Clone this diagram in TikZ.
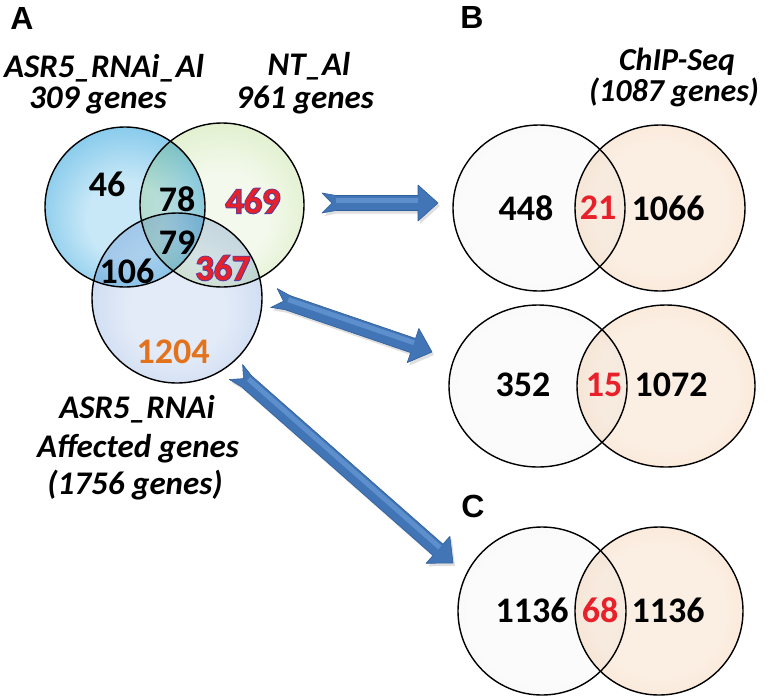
\documentclass[tikz,border=0pt]{standalone}
\usepackage{fontspec}
\setmainfont{Carlito}
\newfontfamily\letterfont{Liberation Sans}
\newfontfamily\numout{Carlito Bold}[FakeBold=5]
\usetikzlibrary{calc,shapes.geometric,shadows}

\definecolor{blueC}{HTML}{C8E8F7}
\definecolor{blueM}{HTML}{7EC6EA}
\definecolor{blueE}{HTML}{228ACB}
\definecolor{greenC}{HTML}{F3F9EC}
\definecolor{greenM}{HTML}{DCEDC6}
\definecolor{greenE}{HTML}{94C45E}
\definecolor{lowC}{HTML}{E3EBF8}
\definecolor{lowM}{HTML}{C6D6EF}
\definecolor{lowE}{HTML}{7399CE}
\definecolor{greyC}{HTML}{FBFBFB}
\definecolor{greyM}{HTML}{F0F0F0}
\definecolor{greyE}{HTML}{D0D0D0}
\definecolor{peachC}{HTML}{FBEEE2}
\definecolor{peachM}{HTML}{F7E0CA}
\definecolor{peachE}{HTML}{E2B990}
\definecolor{numred}{HTML}{E8202A}
\definecolor{numpurple}{HTML}{5A3E9A}
\definecolor{numorange}{HTML}{E2731C}
\definecolor{arrowblue}{HTML}{4275B6}
\definecolor{arrowlight}{HTML}{5F92CF}
\definecolor{arrowdark}{HTML}{2F5E9C}

\pgfdeclareradialshading{shblue}{\pgfpoint{0bp}{-5bp}}{color(0bp)=(blueC); color(12bp)=(blueC); color(30bp)=(blueM); color(50bp)=(blueE)}
\pgfdeclareradialshading{shgreen}{\pgfpoint{0bp}{-5bp}}{color(0bp)=(greenC); color(14bp)=(greenC); color(32bp)=(greenM); color(50bp)=(greenE)}
\pgfdeclareradialshading{shlow}{\pgfpoint{0bp}{-5bp}}{color(0bp)=(lowC); color(14bp)=(lowC); color(32bp)=(lowM); color(50bp)=(lowE)}
\pgfdeclareradialshading{shgrey}{\pgfpoint{0bp}{0bp}}{color(0bp)=(greyC); color(22bp)=(greyC); color(40bp)=(greyM); color(50bp)=(greyE)}
\pgfdeclareradialshading{shpeach}{\pgfpoint{0bp}{0bp}}{color(0bp)=(peachC); color(20bp)=(peachC); color(38bp)=(peachM); color(50bp)=(peachE)}

\tikzset{
  vcirc/.style={circle, inner sep=0pt, shade},
  vell/.style={ellipse, inner sep=0pt, shade},
  mult/.style={blend mode=multiply},
  vline/.style={draw=black, line width=1.4pt},
  numstyle/.style={font=\fontsize{36}{36}\selectfont\bfseries, inner sep=0pt},
  numoutstyle/.style={font=\fontsize{36}{36}\selectfont\numout, inner sep=0pt, text=numpurple},
  labstyle/.style={font=\fontsize{33}{33}\selectfont\bfseries\itshape, inner sep=0pt, anchor=base},
  letterstyle/.style={font=\fontsize{32}{32}\selectfont\letterfont\bfseries, inner sep=0pt},
  arrowbody/.style={fill=arrowblue, draw=arrowdark, line width=0.6pt, line join=round,
     drop shadow={shadow xshift=2pt, shadow yshift=-3pt, opacity=0.25}},
  arrowshine/.style={draw=arrowlight, line width=5pt, opacity=0.9},
}

\newcommand\outnum[3]{%
  \node[numoutstyle] (#1o) at (#2) {#3};
  \node[numstyle, text=numred] (#1) at (#2) {#3};}

\newcommand\barrow[3]{%
  \coordinate (#3n) at ($(#1)!10pt!(#2)$);
  \coordinate (#3s) at ($(#1)!14pt!(#2)$);
  \coordinate (#3h) at ($(#2)!20pt!(#1)$);
  \path[arrowbody] ($(#1)!10pt!90:(#2)$) -- ($(#3s)!7.5pt!90:(#2)$) -- ($(#3h)!7.5pt!90:(#2)$)
     -- ($(#3h)!18pt!90:(#2)$) -- (#2) -- ($(#3h)!18pt!-90:(#2)$) -- ($(#3h)!7.5pt!-90:(#2)$)
     -- ($(#3s)!7.5pt!-90:(#2)$) -- ($(#1)!10pt!-90:(#2)$) -- (#3n) -- cycle;
  \coordinate (#3a) at ($(#3s)!3pt!90:(#2)$);
  \coordinate (#3b) at ($(#3h)!3pt!-90:(#3s)$);
  \draw[arrowshine] (#3a) -- (#3b);}

\begin{document}
\begin{tikzpicture}[x=1pt, y=-1pt]
\useasboundingbox (0,0) rectangle (769,697);
\fill[white] (0,0) rectangle (769,697);

% panel letters
\node[letterstyle] (lA) at (22,18) {A};
\node[letterstyle] (lB) at (472,17) {B};
\node[letterstyle] (lC) at (473,506) {C};

% Venn A
\node[vcirc, minimum size=160pt, shading=shblue] (cblue) at (125,207) {};
\node[vcirc, mult, minimum size=164pt, shading=shgreen] (cgreen) at (222,205) {};
\node[vcirc, mult, minimum size=170pt, shading=shlow] (clow) at (177,298) {};
\draw[vline] (cblue.center) circle[radius=80];
\draw[vline] (cgreen.center) circle[radius=82];
\draw[vline] (clow.center) circle[radius=85];

\node[numstyle] (n46) at (107,184) {46};
\node[numstyle] (n78) at (177,199) {78};
\node[numstyle] (n79) at (177,243) {79};
\node[numstyle] (n106) at (127,271) {106};
\outnum{n469}{253,201}{469}
\outnum{n367}{223,268}{367}
\node[numstyle, text=numorange] (n1204) at (173,352) {1204};

\node[labstyle] (la1) at (104,77) {ASR5\_RNAi\_Al};
\node[labstyle] (la2) at (98,108) {309 genes};
\node[labstyle] (lb1) at (309,75) {NT\_Al};
\node[labstyle] (lb2) at (305,108) {961 genes};
\node[labstyle] (lc1) at (137,418) {ASR5\_RNAi};
\node[labstyle] (lc2) at (138,457) {Affected genes};
\node[labstyle] (lc3) at (135,494) {(1756 genes)};
\node[labstyle, font=\fontsize{32}{32}\selectfont\bfseries\itshape] (ld1) at (677,70) {ChIP-Seq};
\node[labstyle, font=\fontsize{32}{32}\selectfont\bfseries\itshape] (ld2) at (674,101) {(1087 genes)};

% Venn B1
\node[vell, minimum width=172pt, minimum height=166pt, shading=shgrey] (b1l) at (539,208) {};
\node[vell, mult, minimum width=170pt, minimum height=166pt, shading=shpeach] (b1r) at (660,208) {};
\draw[vline] (b1l.center) ellipse[x radius=86, y radius=83];
\draw[vline] (b1r.center) ellipse[x radius=85, y radius=83];
\node[numstyle] (n448) at (526,208) {448};
\node[numstyle, text=numred] (n21) at (598,208) {21};
\node[numstyle] (n1066) at (668,208) {1066};

% Venn B2
\node[vell, minimum width=178pt, minimum height=162pt, shading=shgrey] (b2l) at (538,386) {};
\node[vell, mult, minimum width=178pt, minimum height=162pt, shading=shpeach] (b2r) at (666,386) {};
\draw[vline] (b2l.center) ellipse[x radius=89, y radius=81];
\draw[vline] (b2r.center) ellipse[x radius=89, y radius=81];
\node[numstyle] (n352) at (523,385) {352};
\node[numstyle, text=numred] (n15) at (604,385) {15};
\node[numstyle] (n1072) at (671,385) {1072};

% Venn C
\node[vell, minimum width=168pt, minimum height=168pt, shading=shgrey] (cl) at (542,611) {};
\node[vell, mult, minimum width=168pt, minimum height=168pt, shading=shpeach] (cr) at (659,611) {};
\draw[vline] (cl.center) ellipse[x radius=84, y radius=84];
\draw[vline] (cr.center) ellipse[x radius=84, y radius=84];
\node[numstyle] (n1136a) at (532,610) {1136};
\node[numstyle, text=numred] (n68) at (600,610) {68};
\node[numstyle] (n1136b) at (668,610) {1136};

% arrows
\coordinate (a1t) at (322,203);
\coordinate (a1h) at (438,203);
\coordinate (a2t) at (274,298);
\coordinate (a2h) at (432,352);
\coordinate (a3t) at (236,372);
\coordinate (a3h) at (453,563);
\barrow{a1t}{a1h}{ar1}
\barrow{a2t}{a2h}{ar2}
\barrow{a3t}{a3h}{ar3}
\end{tikzpicture}
\end{document}
